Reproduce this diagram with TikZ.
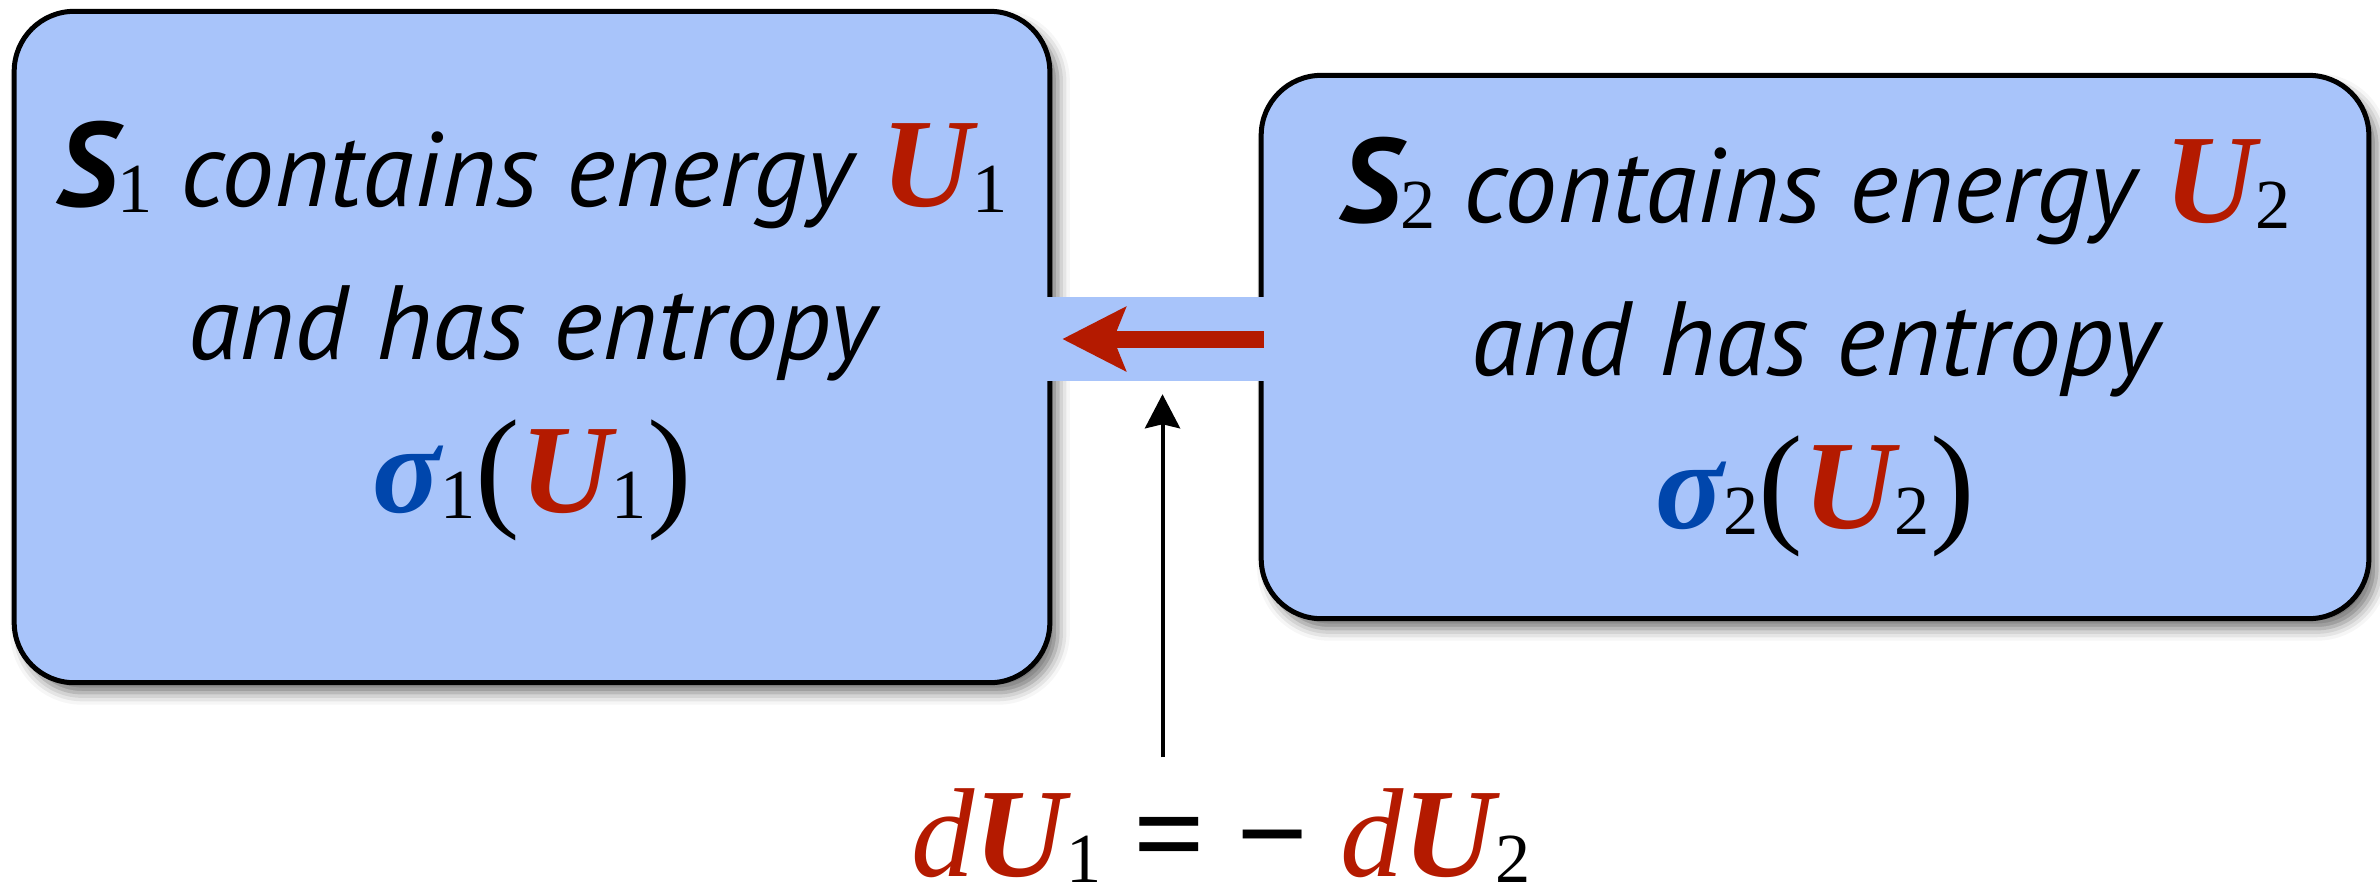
\documentclass[tikz,border=0pt]{standalone}
\usepackage{fontspec}
\setmainfont{PT Sans}
\newfontfamily\tms{Liberation Serif}
\usetikzlibrary{arrows.meta,shadows.blur}
\definecolor{boxblue}{RGB}{168,196,250}
\definecolor{ured}{RGB}{180,26,0}
\definecolor{sblue}{RGB}{0,70,172}
\newcommand{\lowsub}[1]{\raisebox{-0.06cm}{\tms\upshape\mdseries\fontsize{20}{20}\selectfont #1}}
\newcommand{\UU}{{\tms\fontsize{36}{36}\selectfont\bfseries\itshape\color{ured}U}}
\newcommand{\sig}{{\tms\fontsize{36}{36}\selectfont\bfseries\itshape\color{sblue}σ}}
\newcommand{\bigS}{{\fontsize{34}{34}\selectfont\bfseries\itshape S}}
\newcommand{\lp}{{\tms\upshape\mdseries\fontsize{38}{38}\selectfont(}}
\newcommand{\rp}{{\tms\upshape\mdseries\fontsize{38}{38}\selectfont)}}
\begin{document}
\begin{tikzpicture}[x=0.01cm,y=0.01cm,
    sysbox/.style={draw=black,line width=0.05cm,fill=boxblue,rounded corners=0.6cm,
      blur shadow={shadow xshift=0.08cm,shadow yshift=-0.1cm,shadow blur radius=0.12cm,shadow opacity=55}},
    systext/.style={align=center,font=\fontsize{30}{43.5}\selectfont\itshape,inner sep=0pt},
    flow/.style={draw=ured,line width=0.17cm,-{Stealth[length=0.63cm,width=0.63cm,inset=0.12cm]}},
    push/.style={draw=black,line width=0.04cm,-{Stealth[length=0.34cm,width=0.35cm,inset=0.04cm]}}]
  \useasboundingbox (0,0) rectangle (2380,-890);
  % the two systems
  \node[sysbox,minimum width=10.35cm,minimum height=6.71cm] (lbox) at (532,-347) {};
  \node[sysbox,minimum width=11.07cm,minimum height=5.43cm] (rbox) at (1815,-347) {};
  \path (lbox.east) -- (rbox.west) node[midway,yshift=0.08cm,fill=boxblue,inner sep=0pt,
    minimum width=2.24cm,minimum height=0.83cm] (link) {};
  \node[systext] (ltxt) at ([yshift=0.16cm]lbox.center)
    {\bigS\lowsub{1} contains energy \UU\lowsub{1}\\ and has entropy\\ \sig\lowsub{1}\lp\UU\lowsub{1}\rp};
  \node[systext] (rtxt) at (rbox.center)
    {\bigS\lowsub{2} contains energy \UU\lowsub{2}\\ and has entropy\\ \sig\lowsub{2}\lp\UU\lowsub{2}\rp};
  % energy exchange
  \draw[flow,shorten <=-0.05cm,shorten >=0.1cm] (rbox.west |- link.center) -- (lbox.east |- link.center);
  \node[anchor=base,inner sep=0pt,font=\tms\fontsize{36}{36}\selectfont] (eq) at (1221,-876)
    {{\color{ured}\itshape d\textbf{U}}\lowsub{1} \textbf{=} \textbf{−} {\color{ured}\itshape d\textbf{U}}\lowsub{2}};
  \draw[push,shorten <=0.3cm,shorten >=0.13cm] ([xshift=0.07cm]link.south |- eq.north) -- ([xshift=0.07cm]link.south);
\end{tikzpicture}
\end{document}
